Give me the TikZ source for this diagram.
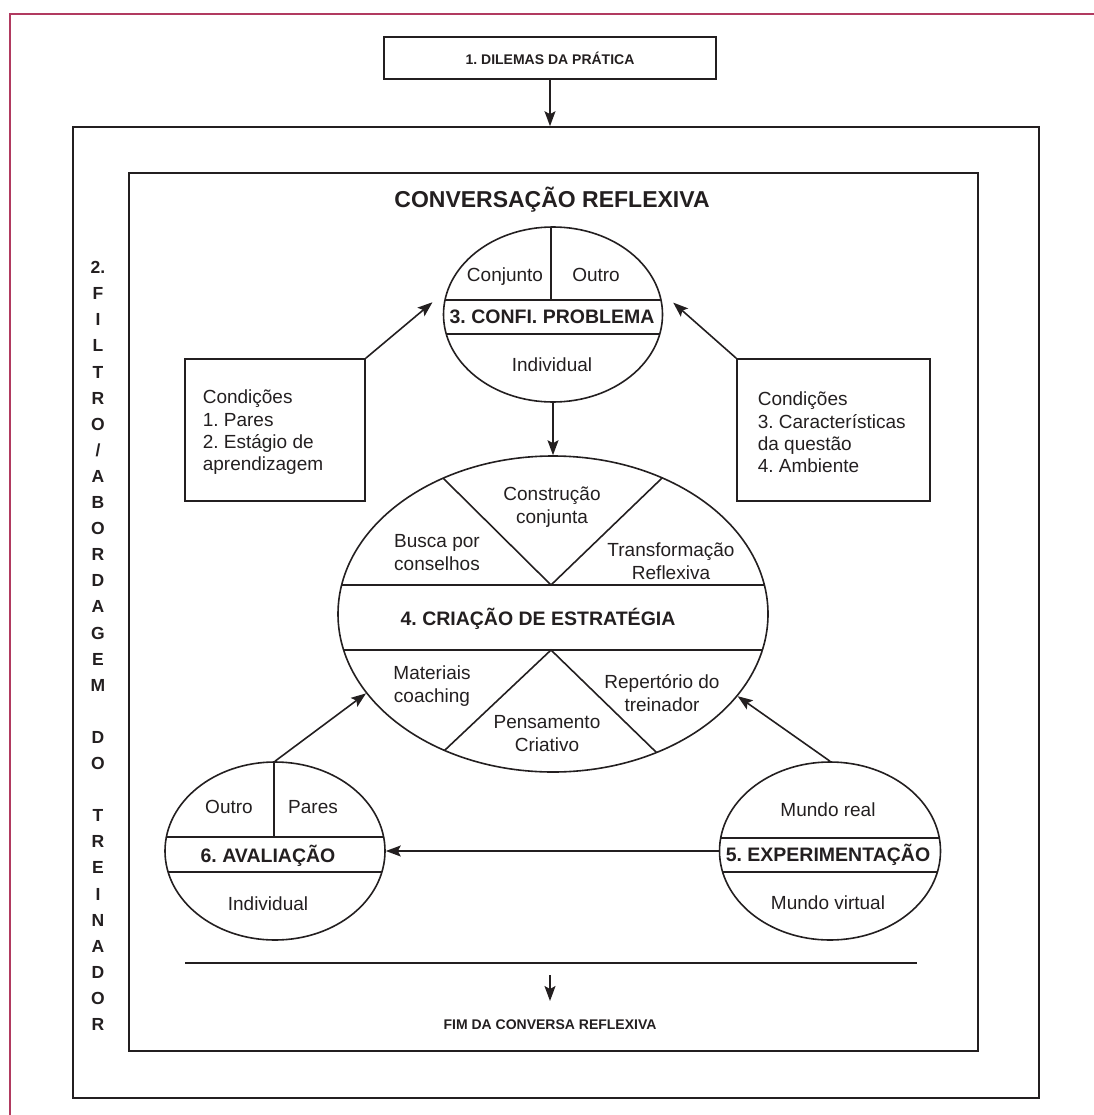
\documentclass[tikz,border=0pt]{standalone}
\usepackage{fontspec}
\setmainfont{Liberation Sans}
\usetikzlibrary{arrows.meta,shapes.geometric,calc}
\definecolor{ink}{HTML}{231F20}
\definecolor{framecol}{RGB}{177,58,96}
\frenchspacing
\begin{document}
\begin{tikzpicture}[x=1pt,y=-1pt,line width=1.6pt,color=ink,
  lbl/.style={font=\fontsize{19}{23}\selectfont,inner sep=0pt,align=center},
  oneline/.style={text height=14pt,text depth=4pt},
  boxtxt/.style={font=\fontsize{19}{22.3}\selectfont,inner sep=0pt,align=left,anchor=west},
  bandtxt/.style={font=\fontsize{19.5}{23}\selectfont\bfseries,inner sep=0pt},
  ell/.style={draw,ellipse,inner sep=0pt},
  rbox/.style={draw,inner sep=0pt},
  arr/.style={-{Stealth[length=15pt,width=11pt,inset=3pt]}}]
\useasboundingbox (0,0) rectangle (1093,1115);
% page frame
\draw[framecol,line width=2.6pt] (10,1130) -- (10,14) -- (1110,14);

% top box
\node[rbox,minimum width=332pt,minimum height=42pt,font=\fontsize{14}{16}\selectfont\bfseries] (dil) at (550,58) {1. DILEMAS DA PRÁTICA};
% frames
\node[rbox,minimum width=966pt,minimum height=971pt] (outer) at (556,612.5) {};
\node[rbox,minimum width=849pt,minimum height=878pt] (inner) at (553.5,612) {};
\draw[arr] (dil.south) -- (dil.south |- outer.north);

% vertical label
\node[font=\fontsize{17.5}{26.1}\selectfont\bfseries,align=center,inner sep=0pt] (filtro) at (98,646)
 {2.\\F\\I\\L\\T\\R\\O\\/\\A\\B\\O\\R\\D\\A\\G\\E\\M\\~\\D\\O\\~\\T\\R\\E\\I\\N\\A\\D\\O\\R};

% title
\node[font=\fontsize{23}{27}\selectfont\bfseries,inner sep=0pt] (title) at (552,200) {CONVERSAÇÃO REFLEXIVA};

% ellipse 3
\node[ell,minimum width=219pt,minimum height=175pt] (e3) at (553,314.5) {};
\begin{scope}
 \clip (553,314.5) ellipse [x radius=109.5pt,y radius=87.5pt];
 \draw (400,300) -- (700,300);
 \draw (400,334) -- (700,334);
 \draw (551,200) -- (551,300);
\end{scope}
\node[lbl,oneline] (e3a) at (505,276) {Conjunto};
\node[lbl,oneline] (e3b) at (596,276) {Outro};
\node[bandtxt] (e3c) at (552,317) {3. CONFI. PROBLEMA};
\node[lbl] (e3d) at (552,365) {Individual};

% side boxes
\node[rbox,minimum width=180pt,minimum height=142pt] (lbox) at (275,430) {};
\node[boxtxt] (ltxt) at (202,432.5) {Condições\\1. Pares\\2. Estágio de\\aprendizagem};
\node[rbox,minimum width=193pt,minimum height=142pt] (rbx) at (833.5,430) {};
\node[boxtxt] (rtxt) at (757,432.5) {Condições\\3. Características\\da questão\\4. Ambiente};
\draw[arr,shorten >=19pt] (lbox.north east) -- (e3.167);
\draw[arr,shorten >=19pt] (rbx.north west) -- (e3.13);

% ellipse 4
\node[ell,minimum width=430pt,minimum height=316pt] (e4) at (553,614) {};
\begin{scope}
 \clip (553,614) ellipse [x radius=215pt,y radius=158pt];
 \draw (300,585) -- (800,585);
 \draw (300,650) -- (800,650);
 \draw (392,427.5) -- (551,585) -- (714.5,427.5);
 \draw (392,800) -- (551,650) -- (710,804.5);
\end{scope}
\node[lbl] (c1) at (552,507) {Construção\\conjunta};
\node[lbl] (c2) at (437,553) {Busca por\\conselhos};
\node[lbl] (c3) at (671,561) {Transformação\\Reflexiva};
\node[bandtxt] (c4) at (538,619) {4. CRIAÇÃO DE ESTRATÉGIA};
\node[lbl] (c5) at (432,686) {Materiais\\coaching};
\node[lbl] (c6) at (662,693) {Repertório do\\treinador};
\node[lbl] (c7) at (547,734) {Pensamento\\Criativo};
\draw[arr] (e3.south) -- (e4.north);

% ellipse 6
\node[ell,minimum width=220pt,minimum height=178pt] (e6) at (275,851) {};
\begin{scope}
 \clip (275,851) ellipse [x radius=110pt,y radius=89pt];
 \draw (150,837) -- (400,837);
 \draw (150,872) -- (400,872);
 \draw (274,740) -- (274,837);
\end{scope}
\node[lbl] (e6a) at (229,807) {Outro};
\node[lbl] (e6b) at (313,807) {Pares};
\node[bandtxt] (e6c) at (268,856) {6. AVALIAÇÃO};
\node[lbl] (e6d) at (268,904) {Individual};

% ellipse 5
\node[ell,minimum width=221pt,minimum height=178pt] (e5) at (830,851) {};
\begin{scope}
 \clip (830,851) ellipse [x radius=110.5pt,y radius=89pt];
 \draw (700,838) -- (960,838);
 \draw (700,872) -- (960,872);
\end{scope}
\node[lbl] (e5a) at (828,810) {Mundo real};
\node[bandtxt] (e5b) at (828,855) {5. EXPERIMENTAÇÃO};
\node[lbl] (e5c) at (828,903) {Mundo virtual};

\draw[arr] (e6.north) -- (e4.203);
\draw[arr] (e5.north) -- (e4.336);
\draw[arr] (e5.west) -- (e6.east);

% end
\coordinate (bl1) at (185,963);
\coordinate (bl2) at (917,963);
\draw (bl1) -- (bl2);
\coordinate (fa) at (550,975);
\coordinate (fb) at (550,1001);
\draw[arr] (fa) -- (fb);
\node[font=\fontsize{14}{16}\selectfont\bfseries,inner sep=0pt] (fim) at (550,1025) {FIM DA CONVERSA REFLEXIVA};
\end{tikzpicture}
\end{document}
